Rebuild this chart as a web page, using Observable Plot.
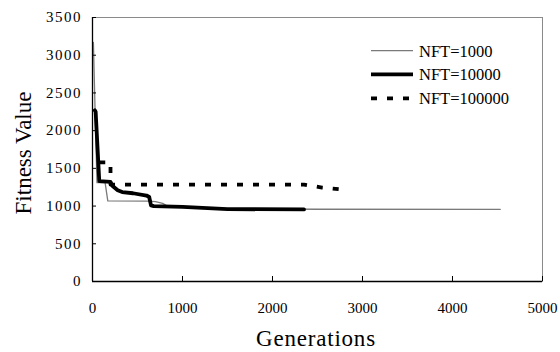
<!DOCTYPE html>
<html>
<head>
<meta charset="utf-8">
<script src="https://cdn.jsdelivr.net/npm/d3@7"></script>
<script src="https://cdn.jsdelivr.net/npm/@observablehq/plot@0.6"></script>
<style>
  html, body { margin: 0; padding: 0; background: #fff; }
  #wrap { position: relative; width: 560px; height: 352px; font-family: "Liberation Serif", "Times New Roman", serif; }
  #wrap svg text { font-family: "Liberation Serif", "Times New Roman", serif !important; font-variant: normal !important; font-variant-numeric: normal !important; }
  #wrap svg.overlay { position: absolute; left: 0; top: 0; pointer-events: none; }
  g[aria-label="y-axis tick label"] text { letter-spacing: 1.5px; }
</style>
</head>
<body>
<div id="wrap"></div>
<script>
// ---- data ----
const seriesNames = ["NFT=1000", "NFT=10000", "NFT=100000"];

const gen1000 = [10, 30, 50, 140, 170, 620, 700, 780, 830, 1000, 1500, 2500, 4530];
const fit1000 = [3170, 2200, 1310, 1310, 1070, 1065, 1060, 1035, 1000, 990, 965, 958, 955];

const gen10000 = [25, 35, 75, 200, 220, 280, 330, 450, 600, 630, 650, 680, 1000, 1500, 2350];
const fit10000 = [2270, 2250, 1330, 1320, 1270, 1210, 1185, 1170, 1140, 1120, 1010, 1000, 990, 960, 955];

const gen100000 = [75, 200, 200, 2350, 2450, 2550, 2770];
const fit100000 = [1580, 1580, 1285, 1285, 1265, 1245, 1220];

const xTicks = [0, 1000, 2000, 3000, 4000, 5000];
const yTicks = [0, 500, 1000, 1500, 2000, 2500, 3000, 3500];

const xTitle = "Generations";
const yTitle = "Fitness Value";

// ---- build tables ----
const toRows = (g, f) => g.map((d, i) => ({g: d, f: f[i]}));
const rows1000 = toRows(gen1000, fit1000);
const rows10000 = toRows(gen10000, fit10000);
const rows100000 = toRows(gen100000, fit100000);

const styles = [
  {stroke: "#7a7a7a", strokeWidth: 1.3, dash: null},
  {stroke: "#000", strokeWidth: 3.8, dash: null},
  {stroke: "#000", strokeWidth: 3.8, dash: "6,10"}
];

const serif = "Liberation Serif";
const fmt = d3.format("d");

const chart = Plot.plot({
  width: 560,
  height: 352,
  marginLeft: 92,
  marginRight: 18,
  marginTop: 17,
  marginBottom: 71,
  style: {fontFamily: serif, fontSize: "15px", color: "#000", background: "#fff"},
  x: {domain: [0, 5000]},
  y: {domain: [0, 3500]},
  marks: [
    Plot.frame({stroke: "#8a8a8a", strokeWidth: 1}),
    Plot.line(rows1000, {x: "g", y: "f", stroke: styles[0].stroke, strokeWidth: styles[0].strokeWidth}),
    Plot.line(rows10000, {x: "g", y: "f", stroke: styles[1].stroke, strokeWidth: styles[1].strokeWidth}),
    Plot.line(rows100000, {x: "g", y: "f", stroke: styles[2].stroke, strokeWidth: styles[2].strokeWidth, strokeDasharray: styles[2].dash, strokeLinecap: "butt"}),
    Plot.ruleX([0], {stroke: "#000", strokeWidth: 1.3}),
    Plot.ruleY([0], {stroke: "#000", strokeWidth: 1.3}),
    Plot.axisX(xTicks, {tickSize: -5, tickFormat: () => "", label: null, stroke: "#000"}),
    Plot.axisX(xTicks, {tickSize: 0, tickPadding: 21, tickFormat: fmt, label: null, fontSize: 15, fontFamily: serif}),
    Plot.axisY(yTicks, {tickSize: -4, tickFormat: () => "", label: null, stroke: "#000"}),
    Plot.axisY(yTicks, {tickSize: 0, tickPadding: 10.5, tickFormat: fmt, label: null, fontSize: 15, fontFamily: serif})
  ]
});

const wrap = document.getElementById("wrap");
wrap.appendChild(chart);

// ---- overlay: axis titles and legend ----
const ns = "http://www.w3.org/2000/svg";
const ov = document.createElementNS(ns, "svg");
ov.setAttribute("class", "overlay");
ov.setAttribute("width", 560);
ov.setAttribute("height", 352);
ov.setAttribute("font-family", serif);

const xt = document.createElementNS(ns, "text");
xt.setAttribute("x", 256); xt.setAttribute("y", 346);
xt.setAttribute("font-size", 23);
xt.setAttribute("letter-spacing", "0.8");
xt.textContent = xTitle;
ov.appendChild(xt);

const yt = document.createElementNS(ns, "text");
yt.setAttribute("transform", "translate(31,153) rotate(-90)");
yt.setAttribute("text-anchor", "middle");
yt.setAttribute("font-size", 23);
yt.textContent = yTitle;
ov.appendChild(yt);

const rowY = [50.7, 74.3, 98.3];
seriesNames.forEach((name, i) => {
  const l = document.createElementNS(ns, "line");
  l.setAttribute("x1", 371); l.setAttribute("x2", 413);
  l.setAttribute("y1", rowY[i]); l.setAttribute("y2", rowY[i]);
  l.setAttribute("stroke", styles[i].stroke);
  l.setAttribute("stroke-width", styles[i].strokeWidth);
  if (styles[i].dash) l.setAttribute("stroke-dasharray", styles[i].dash);
  ov.appendChild(l);
  const t = document.createElementNS(ns, "text");
  t.setAttribute("x", 419); t.setAttribute("y", rowY[i] + 6);
  t.setAttribute("font-size", 16.5);
  t.textContent = name;
  ov.appendChild(t);
});
wrap.appendChild(ov);
</script>
</body>
</html>
